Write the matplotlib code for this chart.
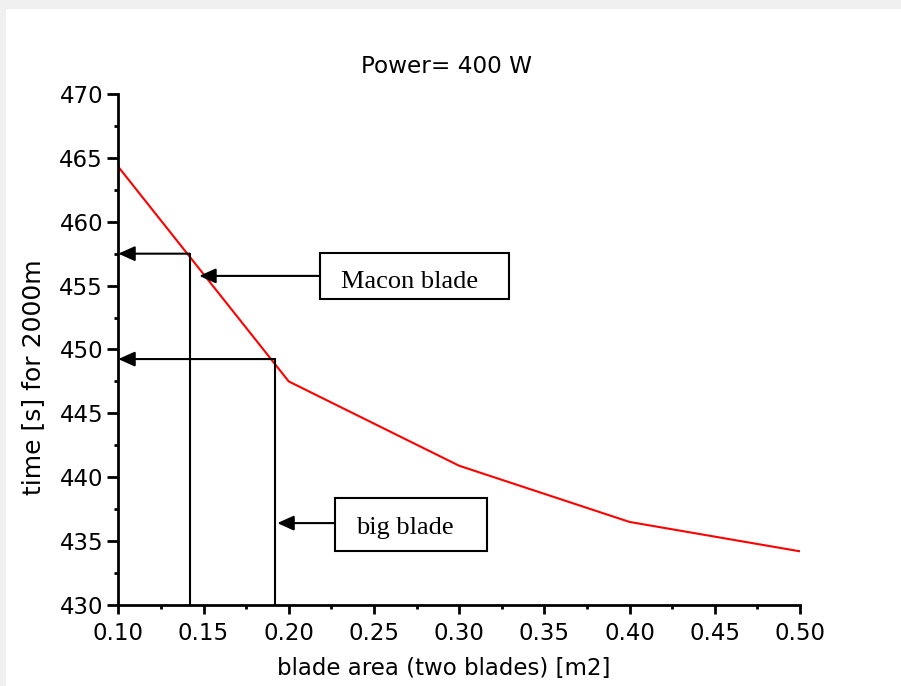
import matplotlib
matplotlib.use('Agg')
import matplotlib.pyplot as plt
from matplotlib.patches import Rectangle
from matplotlib.ticker import MultipleLocator

# Données : temps sur 2000 m selon la surface des pales (P = 400 W)
area = [0.10, 0.20, 0.30, 0.40, 0.50]
time_s = [464.3, 447.5, 440.9, 436.5, 434.2]

# Points repérés sur la courbe
macon_area, macon_time = 0.1418, 457.5
big_area, big_time = 0.192, 449.25

plt.rcParams['font.family'] = ['DejaVu Sans']

fig = plt.figure(figsize=(9.01, 6.86), dpi=100, facecolor='#f0f0f0')
# fond blanc (bordure grise en haut et à gauche)
fig.add_artist(Rectangle((6 / 901, 0), 1, 677 / 686, transform=fig.transFigure,
                         facecolor='white', edgecolor='none', zorder=-10))

ax = fig.add_axes([0.1313, 0.1181, 0.7566, 0.7449])
ax.set_facecolor('white')

ax.plot(area, time_s, color='red', lw=1.5)

ax.set_xlim(0.10, 0.50)
ax.set_ylim(430, 470)
ax.xaxis.set_major_locator(MultipleLocator(0.05))
ax.xaxis.set_minor_locator(MultipleLocator(0.025))
ax.yaxis.set_major_locator(MultipleLocator(5))
ax.yaxis.set_minor_locator(MultipleLocator(2.5))
ax.xaxis.set_major_formatter(lambda v, p: f'{v:.2f}')

for s in ['top', 'right']:
    ax.spines[s].set_visible(False)
for s in ['left', 'bottom']:
    ax.spines[s].set_linewidth(2)

ax.tick_params(axis='y', which='major', length=8, width=2, pad=3, labelsize=16.5)
ax.tick_params(axis='y', which='minor', length=3.2, width=2)
ax.tick_params(axis='x', which='major', length=6.5, width=2, pad=6, labelsize=16.5)
ax.tick_params(axis='x', which='minor', length=3.2, width=2)

ax.set_xlabel('blade area (two blades) [m2]', fontsize=16.5, va='top')
ax.xaxis.set_label_coords(0.477, -0.102)
ax.set_ylabel('time [s] for 2000m', fontsize=18)
ax.yaxis.set_label_coords(-0.1075, 0.445)
ax.text(0.4816, 1.0417, 'Power= 400 W', transform=ax.transAxes, ha='center',
        va='baseline', fontsize=16.7)

arrow = dict(arrowstyle='-|>,head_length=1.0,head_width=0.45', color='black',
             lw=1.5, shrinkA=0, shrinkB=0)

# lignes de lecture vers l'axe
for xa, ya in [(macon_area, macon_time), (big_area, big_time)]:
    ax.plot([xa, xa], [430, ya], color='black', lw=1.5)
    ax.annotate('', xy=(0.10, ya), xytext=(xa, ya), arrowprops=arrow)

# boîtes de texte
serif = ['Liberation Serif', 'DejaVu Serif']
ax.add_patch(Rectangle((0.2183, 453.96), 0.3295 - 0.2183, 457.53 - 453.96,
                       facecolor='white', edgecolor='black', lw=1.5, zorder=3))
ax.text(0.2307, 454.8, 'Macon blade', family=serif, fontsize=19, va='baseline', zorder=4)
ax.annotate('', xy=(0.1475, 455.76), xytext=(0.2183, 455.76), arrowprops=arrow)

ax.add_patch(Rectangle((0.2271, 434.24), 0.3162 - 0.2271, 438.36 - 434.24,
                       facecolor='white', edgecolor='black', lw=1.5, zorder=3))
ax.text(0.2395, 435.57, 'big blade', family=serif, fontsize=19, va='baseline', zorder=4)
ax.annotate('', xy=(0.1933, 436.41), xytext=(0.2271, 436.41), arrowprops=arrow)

plt.savefig('out.png', dpi=100, facecolor=fig.get_facecolor())
